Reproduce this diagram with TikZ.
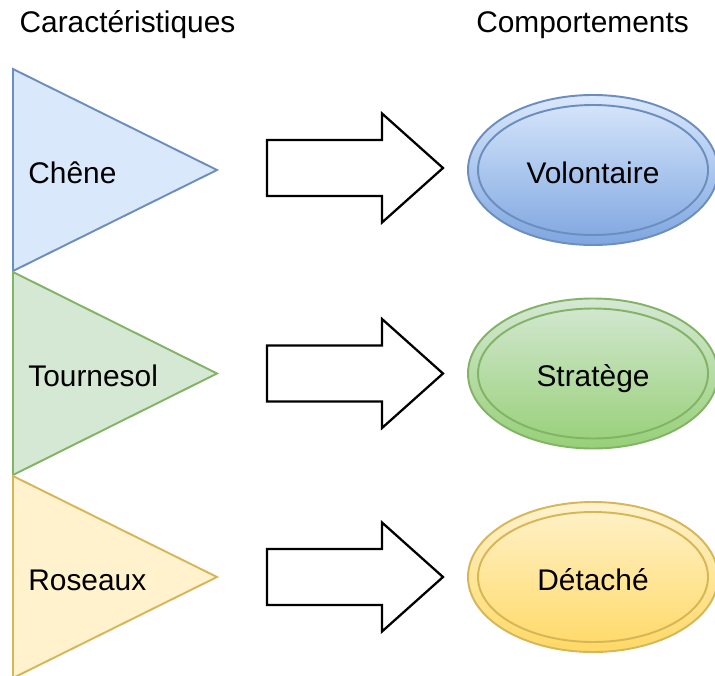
\documentclass[tikz,border=0pt]{standalone}
\usepackage{fontspec}
\setmainfont{Liberation Sans}
\usepackage{xcolor}
\usepackage{tikz}
\usetikzlibrary{calc, positioning, shapes.geometric}
\definecolor{bleuF}{HTML}{DAE8FC}
\definecolor{bleuT}{HTML}{6C8EBF}
\definecolor{bleuB}{HTML}{7EA6E0}
\definecolor{vertF}{HTML}{D5E8D4}
\definecolor{vertT}{HTML}{82B366}
\definecolor{vertB}{HTML}{97D077}
\definecolor{jauneF}{HTML}{FFF2CC}
\definecolor{jauneT}{HTML}{D6B656}
\definecolor{jauneB}{HTML}{FFD966}

\begin{document}
\begin{tikzpicture}[
  font=\fontsize{17}{20}\selectfont,
  tri/.style={line width=1.1pt, line join=miter},
  fleche/.style={draw, line width=1.3pt, fill=white, line join=miter},
  comp/.style={ellipse, draw, line width=1.1pt, minimum width=5cm, minimum height=3cm},
  compin/.style={ellipse, draw, line width=1.1pt, minimum width=4.6cm, minimum height=2.6cm,
    text height=15pt, text depth=0pt},
  lbl/.style={anchor=west, inner sep=0pt, text height=15pt, text depth=0pt}]
  \useasboundingbox (0,0) rectangle (14.3,13.5);
  % Titres
  \node (carac) at (2.55,13.0) {Caractéristiques};
  \node (compo) at (11.65,13.0) {Comportements};
  % Caracteristiques (triangles)
  \draw[tri, draw=bleuT, fill=bleuF] (0.26,12.12) -- (4.34,10.1) -- (0.26,8.08) -- cycle;
  \draw[tri, draw=vertT, fill=vertF] (0.26,8.06) -- (4.34,6.03) -- (0.26,4.0) -- cycle;
  \draw[tri, draw=jauneT, fill=jauneF] (0.26,3.98) -- (4.34,1.96) -- (0.26,-0.06) -- cycle;
  \node[lbl] (chene) at (0.56,10.1) {Chêne};
  \node[lbl] (tourn) at (0.56,6.03) {Tournesol};
  \node[lbl] (ros)   at (0.56,1.96) {Roseaux};
  % Fleches
  \draw[fleche, yshift=10.14cm] (5.34,0.56) -- (7.64,0.56) -- (7.64,1.09) -- (8.86,0) -- (7.64,-1.09) -- (7.64,-0.56) -- (5.34,-0.56) -- cycle;
  \draw[fleche, yshift=6.03cm] (5.34,0.56) -- (7.64,0.56) -- (7.64,1.09) -- (8.86,0) -- (7.64,-1.09) -- (7.64,-0.56) -- (5.34,-0.56) -- cycle;
  \draw[fleche, yshift=1.96cm] (5.34,0.56) -- (7.64,0.56) -- (7.64,1.09) -- (8.86,0) -- (7.64,-1.09) -- (7.64,-0.56) -- (5.34,-0.56) -- cycle;
  % Comportements (ellipses doubles)
  \node[comp, draw=bleuT, top color=bleuF, bottom color=bleuB] (volo) at (11.86,10.1) {};
  \node[compin, draw=bleuT] (voloin) at (volo) {Volontaire};
  \node[comp, draw=vertT, top color=vertF, bottom color=vertB] (strat) at (11.86,6.03) {};
  \node[compin, draw=vertT] (stratin) at (strat) {Stratège};
  \node[comp, draw=jauneT, top color=jauneF, bottom color=jauneB] (detach) at (11.86,1.96) {};
  \node[compin, draw=jauneT] (detachin) at (detach) {Détaché};
\end{tikzpicture}
\end{document}
